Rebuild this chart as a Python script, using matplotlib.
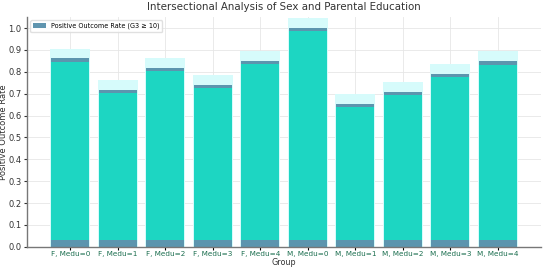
import matplotlib
matplotlib.use("Agg")
import matplotlib.pyplot as plt
import numpy as np

# groups and positive outcome rate (G3 >= 10)
groups = ["F, Medu=0", "F, Medu=1", "F, Medu=2", "F, Medu=3", "F, Medu=4",
          "M, Medu=0", "M, Medu=1", "M, Medu=2", "M, Medu=3", "M, Medu=4"]
rates = [0.861, 0.718, 0.818, 0.741, 0.849, 1.0, 0.652, 0.708, 0.789, 0.848]

x = np.arange(len(groups))
r = np.array(rates)

fig, ax = plt.subplots(figsize=(5.5, 2.71), dpi=100)

# light cyan halo behind the bars
ax.bar(x, r + 0.045, width=0.84, color="#d6fbfb", zorder=1)
# main bar
ax.bar(x, r, width=0.8, color="#4f8aa6", alpha=0.9, zorder=2,
       label="Positive Outcome Rate (G3 \u2265 10)")
# turquoise fill
ax.bar(x, r - 0.045, bottom=0.03, width=0.8, color="#1dd6c2", zorder=3)

ax.set_xticks(x)
ax.set_xticklabels(groups, fontsize=5.2, color="#1b6e4f")
ax.tick_params(axis="y", labelsize=6, colors="#333333", length=2, pad=2)
ax.tick_params(axis="x", length=2, pad=1)
ax.set_yticks(np.arange(0, 1.01, 0.1))
ax.set_ylim(0, 1.05)
ax.set_xlabel("Group", fontsize=5.8, color="#333333", labelpad=1)
ax.set_ylabel("Positive Outcome Rate", fontsize=6, color="#333333")
ax.yaxis.set_label_coords(-0.036, 0.5)
ax.set_title("Intersectional Analysis of Sex and Parental Education",
             fontsize=7.4, color="#333333", pad=5)

ax.grid(True, color="#e6e6e6", linewidth=0.6, zorder=0)
ax.set_axisbelow(True)
for s in ["top", "right"]:
    ax.spines[s].set_visible(False)
for s in ["left", "bottom"]:
    ax.spines[s].set_color("#777777")
    ax.spines[s].set_linewidth(1.0)

ax.legend(loc="upper left", fontsize=4.7, frameon=True, framealpha=0.9,
          edgecolor="#dddddd", handlelength=2, borderpad=0.4)

fig.subplots_adjust(left=0.049, right=0.984, top=0.937, bottom=0.089)
fig.savefig("out.png", dpi=100)
